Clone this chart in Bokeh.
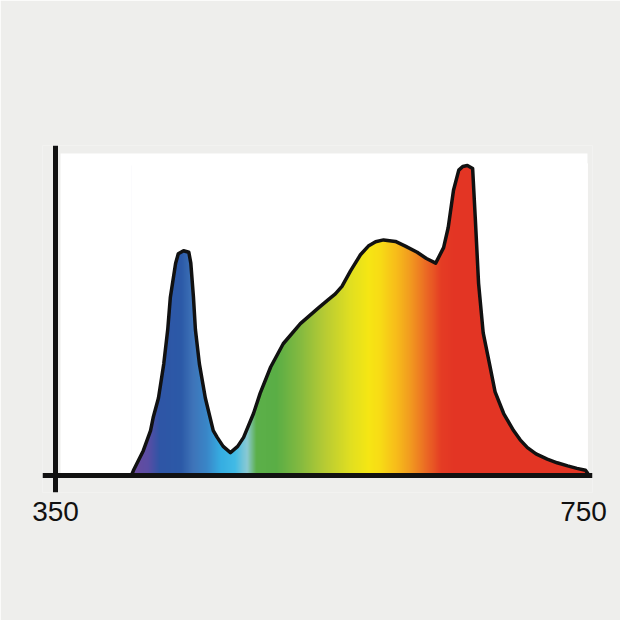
import numpy as np
from bokeh.plotting import figure
from bokeh.models import LinearAxis, FixedTicker, Range1d, BoxAnnotation
from bokeh.embed import file_html
from bokeh.resources import INLINE

# Spectrum curve (wavelength in nm, relative intensity, red peak = 100)
WAVELENGTH = [407.5, 409, 416.5, 422, 424, 428, 432, 435, 437, 441, 443, 447, 451,
              452.5, 454.5, 456, 459, 463.5, 469.5, 472.5, 477, 482.5, 488, 492.5,
              500, 505, 513, 522.5, 535.5, 549, 556, 562, 567, 573.5, 581, 587,
              592.5, 598.5, 607.5, 615, 624, 631, 638, 644, 647.5, 651.5, 655.5,
              658.5, 662, 666, 668, 670.5, 674, 679, 683, 689.5, 697, 702, 707.5,
              714, 722.5, 730, 738, 745, 751.5, 753]
INTENSITY = [0, 1.6, 8, 14.5, 18.7, 25, 36, 47, 57.5, 68.5, 71.5, 72.5, 72,
             68.5, 57.5, 47, 36, 25, 14.5, 12.3, 9.4, 7.4, 9.4, 12.3,
             20, 26.5, 35, 42.5, 49, 54, 56.5, 58.6, 61, 66, 71.2, 74,
             75.4, 76, 75.5, 74, 72, 70, 68.5, 73.5, 80, 92, 98.5,
             99.7, 100, 99, 83, 62, 46, 35.5, 27, 20, 14.5, 11.5, 9,
             7, 5.3, 4.1, 3.1, 2.3, 1.7, 0.8]

X_TICKS = [350, 750]

# Colour stops of the rainbow fill
GRAD_WL = [406, 420, 429, 445, 454, 464, 475, 486, 495, 502, 517, 536, 554,
           573, 587, 596, 608, 619, 630, 642, 653, 760]
GRAD_COLORS = ["#6e4a9e", "#5a4ea5", "#2f56a6", "#2c5aa8", "#3f74b9", "#3a86c8",
               "#36aee2", "#42bbe6", "#8ccad4", "#5cb04a", "#5aae46", "#86bb40",
               "#b8cc34", "#e0df22", "#f6e714", "#f8dc16", "#f7bd1b", "#f29a20",
               "#ec6e24", "#e53d25", "#e33524", "#e33524"]

BG = "#eeeeec"
INK = "#111111"

p = figure(width=620, height=620, output_backend="svg", toolbar_location=None,
           x_range=Range1d(340.15, 756.8), y_range=Range1d(-5.48, 106.45),
           x_axis_type=None, y_axis_type=None,
           min_border_left=42, min_border_right=28,
           min_border_top=145, min_border_bottom=128,
           background_fill_color=BG, border_fill_color=BG,
           outline_line_color=None)

# white plotting card
p.add_layout(BoxAnnotation(left=353.8, right=753.0, bottom=-0.5, top=103.9,
                           fill_color="white", fill_alpha=1.0, line_color=None,
                           level="underlay"))

# rainbow gradient image under the curve
wl0, wl1 = WAVELENGTH[0], WAVELENGTH[-1]
top = max(INTENSITY)
cols = 900
xs = np.linspace(wl0, wl1, cols)
rgb = np.array([[int(c[i:i + 2], 16) for i in (1, 3, 5)] for c in GRAD_COLORS], dtype=float)
img = np.empty((1, cols), dtype=np.uint32)
view = img.view(dtype=np.uint8).reshape((1, cols, 4))
for k in range(3):
    view[0, :, k] = np.interp(xs, GRAD_WL, rgb[:, k]).astype(np.uint8)
view[0, :, 3] = 255
p.image_rgba(image=[img], x=wl0, y=0, dw=wl1 - wl0, dh=top)

# white mask above the curve
mx = [wl0] + WAVELENGTH + [wl1]
my = [top + 0.6] + INTENSITY + [top + 0.6]
p.patch(mx, my, fill_color="white", line_color="white", line_width=1)

# outline
p.line(WAVELENGTH, INTENSITY, line_color=INK, line_width=3.5,
       line_join="round", line_cap="round")

# tick labels (axis at frame bottom, no line)
xl = LinearAxis(ticker=FixedTicker(ticks=X_TICKS),
                axis_line_color=None,
                major_tick_line_color=None, minor_tick_line_color=None,
                major_label_standoff=3,
                major_label_text_font="Liberation Sans",
                major_label_text_font_size="28px",
                major_label_text_color=INK)
p.add_layout(xl, "below")

# horizontal axis line at zero
xa = LinearAxis(fixed_location=0, ticker=FixedTicker(ticks=[]),
                axis_line_width=5, axis_line_color=INK,
                major_tick_line_color=None, minor_tick_line_color=None,
                major_label_text_font_size="0px")
p.add_layout(xa, "below")

# vertical axis line at 350 nm
ya = LinearAxis(fixed_location=X_TICKS[0], ticker=FixedTicker(ticks=[]),
                axis_line_width=5, axis_line_color=INK,
                major_tick_line_color=None, minor_tick_line_color=None,
                major_label_text_font_size="0px")
p.add_layout(ya, "left")

open("out.html", "w").write(file_html(p, INLINE))
